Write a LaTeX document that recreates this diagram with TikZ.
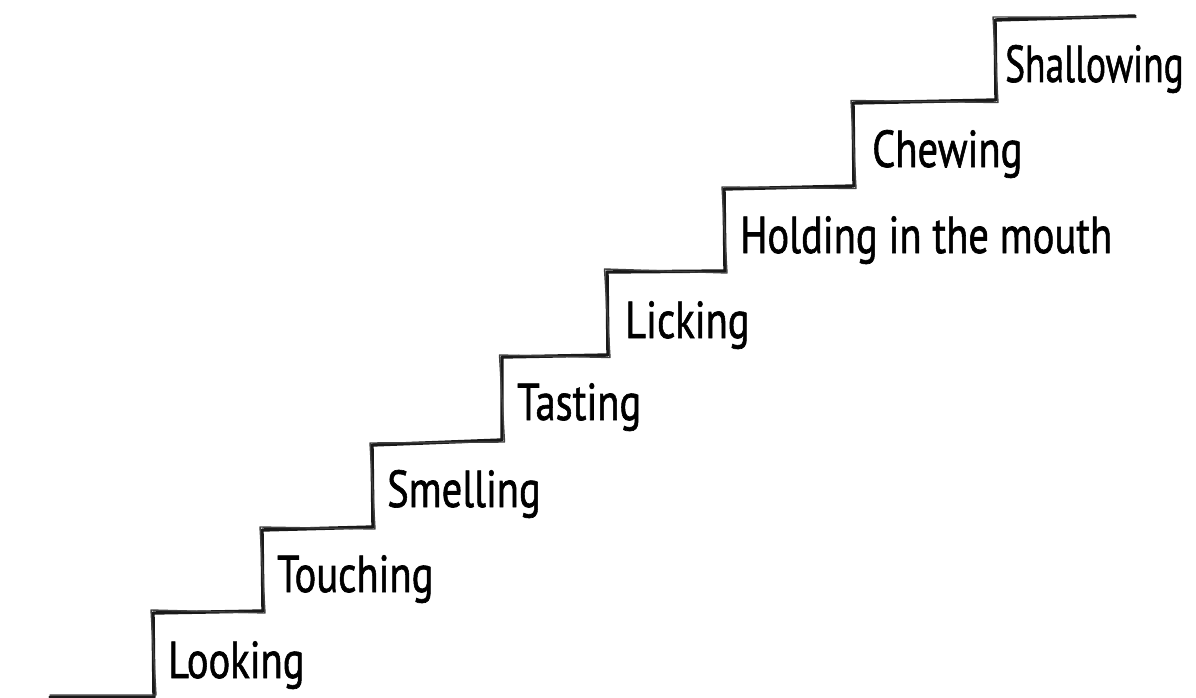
\documentclass[tikz,border=0pt]{standalone}
\usepackage{fontspec}
\setmainfont{PT Sans}[FakeBold=1.3]
\begin{document}
\begin{tikzpicture}[x=1pt,y=-1pt,
  stairline/.style={draw=black!90,line width=3.4pt,line join=round,line cap=round},
  sketchline/.style={draw=black!75,line width=1.4pt,line join=round,line cap=round},
  steplabel/.style={anchor=base west,inner sep=0pt,font=\fontsize{52}{60}\selectfont,text=black}]
\useasboundingbox (0,0) rectangle (1196,698);
% stair corners
\coordinate (s0) at (50,697);
\coordinate (b1) at (154,697); \coordinate (t1) at (153,613);
\coordinate (b2) at (263,611); \coordinate (t2) at (262,530);
\coordinate (b3) at (373,527); \coordinate (t3) at (372,445);
\coordinate (b4) at (502,440); \coordinate (t4) at (502,357);
\coordinate (b5) at (608,355); \coordinate (t5) at (607,272);
\coordinate (b6) at (725,271); \coordinate (t6) at (724,189);
\coordinate (b7) at (854,186); \coordinate (t7) at (853,103);
\coordinate (b8) at (996,100); \coordinate (t8) at (995,20);
\coordinate (e8) at (1135,16);
\draw[stairline] (s0) -- (b1) -- (t1) -- (b2) -- (t2) -- (b3) -- (t3) -- (b4) -- (t4) -- (b5) -- (t5) -- (b6) -- (t6) -- (b7) -- (t7) -- (b8) -- (t8) -- (e8);
\draw[sketchline] ([shift={(0,-2)}]s0) -- ([shift={(2,-2)}]b1) -- ([shift={(-2,-3)}]t1) -- ([shift={(2,2)}]b2) -- ([shift={(-2,-3)}]t2) -- ([shift={(2,2)}]b3) -- ([shift={(-2,-2)}]t3) -- ([shift={(2.5,2)}]b4) -- ([shift={(-2.5,-2)}]t4) -- ([shift={(2,2.5)}]b5) -- ([shift={(-2.5,-3)}]t5) -- ([shift={(2,2)}]b6) -- ([shift={(-2,-2)}]t6) -- ([shift={(2,2.5)}]b7) -- ([shift={(-2,-2.5)}]t7) -- ([shift={(2,2.5)}]b8) -- ([shift={(-2,-3)}]t8) -- ([shift={(1,1.5)}]e8);
% labels
\node[steplabel] (l1) at (168,678) {\scalebox{0.78}[1]{Looking}};
\node[steplabel] (l2) at (277,592) {\scalebox{0.78}[1]{Touching}};
\node[steplabel] (l3) at (387,507) {\scalebox{0.78}[1]{Smelling}};
\node[steplabel] (l4) at (517,420) {\scalebox{0.78}[1]{Tasting}};
\node[steplabel] (l5) at (625,338) {\scalebox{0.78}[1]{Licking}};
\node[steplabel] (l6) at (740,253) {\scalebox{0.78}[1]{Holding in the mouth}};
\node[steplabel] (l7) at (872,167) {\scalebox{0.78}[1]{Chewing}};
\node[steplabel] (l8) at (1005,82) {\scalebox{0.72}[1]{Shallowing}};
\end{tikzpicture}
\end{document}
